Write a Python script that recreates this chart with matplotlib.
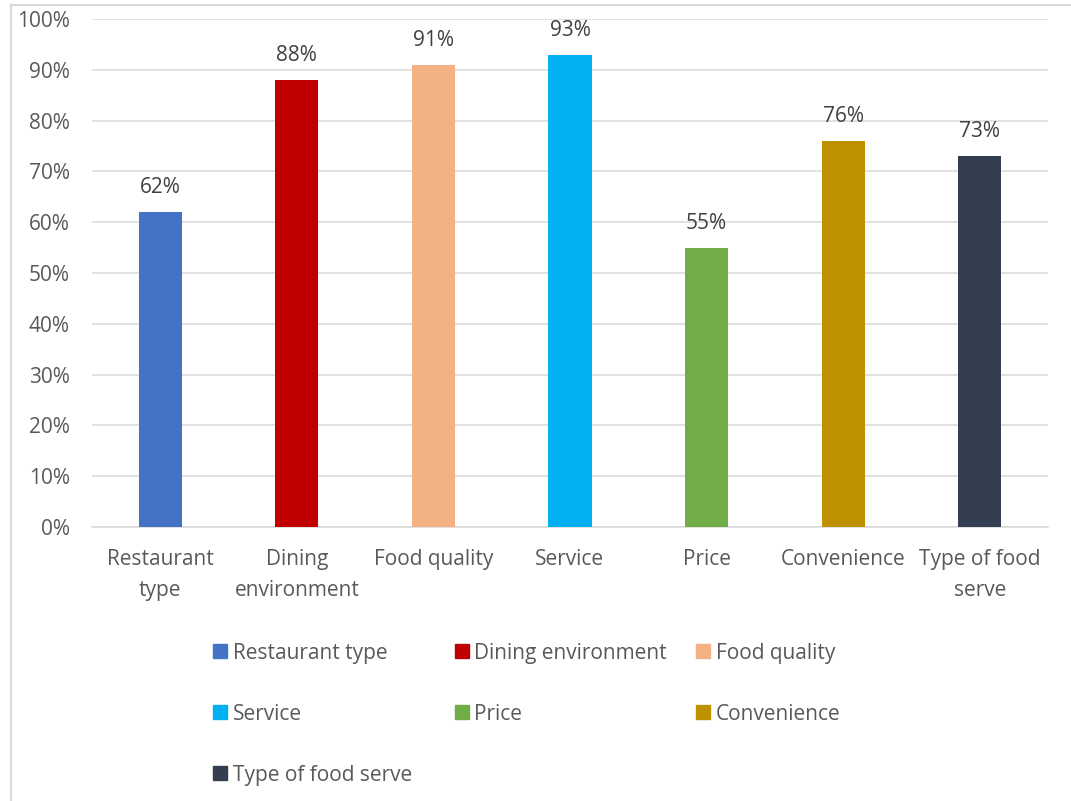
import matplotlib
matplotlib.use('Agg')
import matplotlib.pyplot as plt
import matplotlib.patches as mpatches
from matplotlib.lines import Line2D
from matplotlib.ticker import MultipleLocator, PercentFormatter
import numpy as np

categories = ["Restaurant type", "Dining environment", "Food quality", "Service",
              "Price", "Convenience", "Type of food serve"]
tick_labels = ["Restaurant\ntype", "Dining\nenvironment", "Food quality", "Service",
               "Price", "Convenience", "Type of food\nserve"]
values = [62, 88, 91, 93, 55, 76, 73]
colors = ["#4472C4", "#C00000", "#F4B183", "#00B0F0", "#70AD47", "#BF9000", "#333F50"]

W, H = 1071, 801
TXT = "#595959"
GRID = "#D9D9D9"
FS = 15
plt.rcParams['font.family'] = ['Open Sans', 'DejaVu Sans']

fig = plt.figure(figsize=(W / 100, H / 100), dpi=100)
ax = fig.add_axes([92 / W, 1 - 527 / H, (1048 - 92) / W, (527 - 19) / H])

x = np.arange(len(categories))
ax.bar(x, values, width=0.315, color=colors, zorder=3)
for xi, v in zip(x, values):
    ax.annotate(f"{v}%", (xi, v), xytext=(0, 13.5), textcoords='offset points',
                ha='center', va='baseline', fontsize=FS, color="#404040")

ax.set_xlim(-0.5, len(categories) - 0.5)
ax.set_ylim(0, 100)
ax.yaxis.set_major_locator(MultipleLocator(10))
ax.yaxis.set_major_formatter(PercentFormatter(decimals=0))
ax.set_xticks(x)
ax.set_xticklabels(tick_labels, linespacing=1.62)
ax.tick_params(axis='both', length=0, labelsize=FS, labelcolor=TXT)
ax.tick_params(axis='y', pad=16)
ax.tick_params(axis='x', pad=16)
ax.grid(axis='y', color=GRID, linewidth=1.1, zorder=0)
for side in ['top', 'right', 'left']:
    ax.spines[side].set_visible(False)
ax.spines['bottom'].set_color(GRID)
ax.spines['bottom'].set_linewidth(1.1)

# legend laid out on an even 3-column grid below the plot
for i, (name, c) in enumerate(zip(categories, colors)):
    row, col = divmod(i, 3)
    px = 213 + col * 241.5
    py = 651 + row * 61
    fig.add_artist(mpatches.Rectangle((px / W, 1 - (py + 7) / H), 14 / W, 14 / H,
                                      transform=fig.transFigure, color=c))
    fig.text((px + 20) / W, 1 - py / H, name, ha='left', va='center_baseline',
             fontsize=FS, color=TXT)

# chart frame
fig.add_artist(Line2D([11 / W, 11 / W], [0, 1 - 5 / H], transform=fig.transFigure,
                      color=GRID, linewidth=1.5))
fig.add_artist(Line2D([11 / W, 1], [1 - 5 / H, 1 - 5 / H], transform=fig.transFigure,
                      color=GRID, linewidth=1.5))

fig.savefig("out.png", dpi=100, facecolor='white')
